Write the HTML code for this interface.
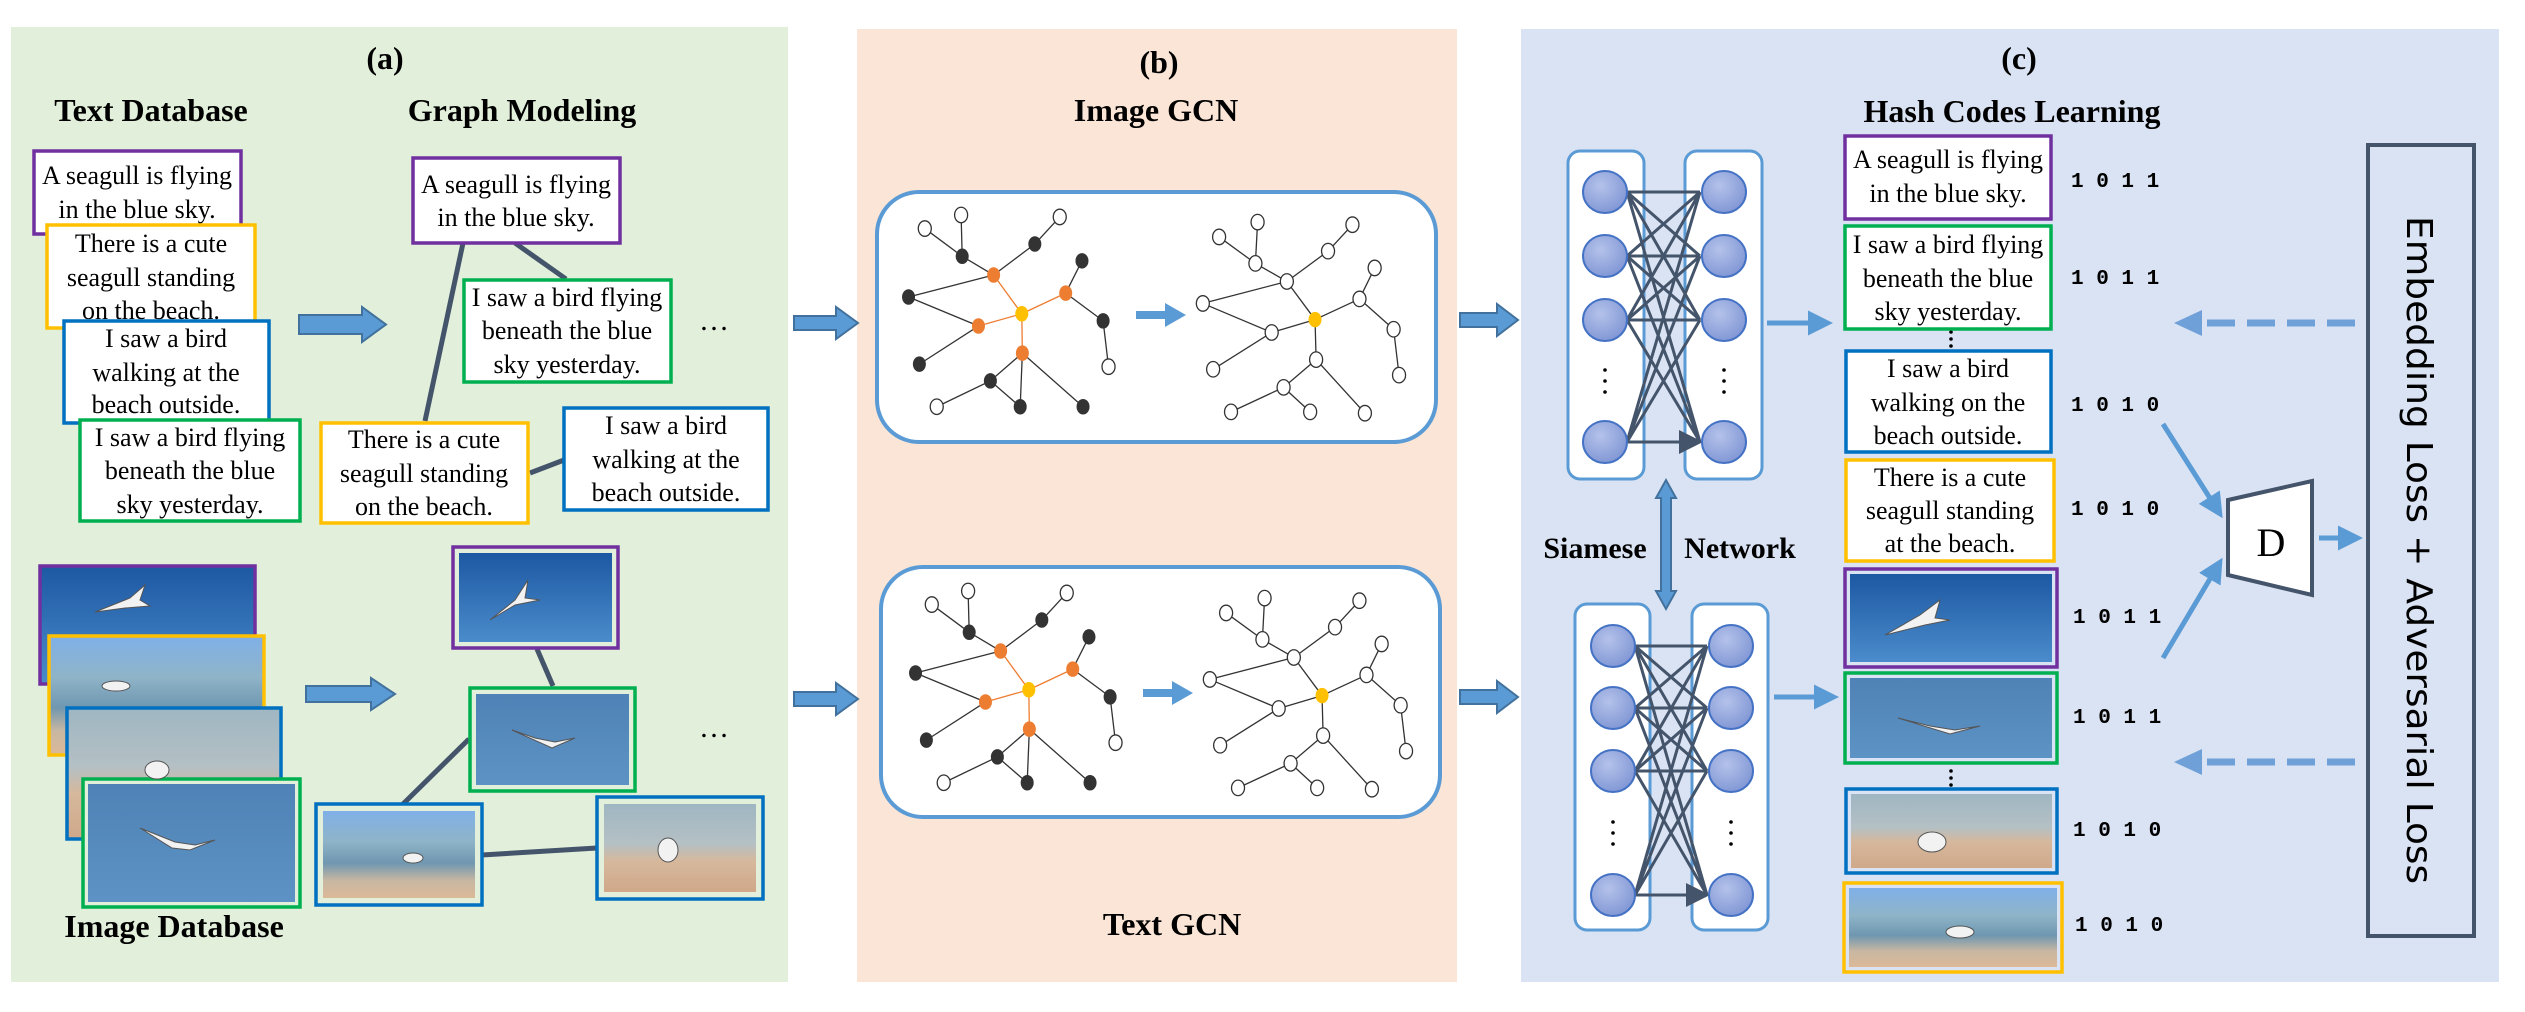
<!DOCTYPE html>
<html><head><meta charset="utf-8"><style>
html,body{margin:0;padding:0;background:#fff}
svg{display:block}
.t{font-family:"Liberation Serif",serif;font-size:26px;text-anchor:middle;fill:#000}
.h{font-family:"Liberation Serif",serif;font-weight:bold;font-size:32px;text-anchor:middle;fill:#000}
.c{font-family:"Liberation Mono",monospace;font-weight:bold;font-size:21px;fill:#000}
</style></head><body>
<svg width="2525" height="1012" viewBox="0 0 2525 1012" xmlns="http://www.w3.org/2000/svg">
<defs>
<linearGradient id="sky1" x1="0" y1="0" x2="0" y2="1"><stop offset="0" stop-color="#1d58a3"/><stop offset="1" stop-color="#4a8ccb"/></linearGradient>
<linearGradient id="sky2" x1="0" y1="0" x2="0" y2="1"><stop offset="0" stop-color="#4f82b6"/><stop offset="1" stop-color="#5d93c4"/></linearGradient>
<linearGradient id="beach1" x1="0" y1="0" x2="0" y2="1"><stop offset="0" stop-color="#7fb0e8"/><stop offset="0.35" stop-color="#8fb4c8"/><stop offset="0.6" stop-color="#6f97b0"/><stop offset="0.8" stop-color="#c8b7a2"/><stop offset="1" stop-color="#dcb997"/></linearGradient>
<linearGradient id="beach2" x1="0" y1="0" x2="0" y2="1"><stop offset="0" stop-color="#9fb6c2"/><stop offset="0.45" stop-color="#b4c0c4"/><stop offset="0.65" stop-color="#d6b89c"/><stop offset="1" stop-color="#d0a88a"/></linearGradient>
<radialGradient id="node" cx="0.4" cy="0.35" r="0.7"><stop offset="0" stop-color="#b4c2ea"/><stop offset="1" stop-color="#7f95d4"/></radialGradient>
<marker id="ah" markerWidth="8" markerHeight="8" refX="7" refY="4" orient="auto" markerUnits="strokeWidth"><path d="M0,0 L8,4 L0,8 Z" fill="#44546a"/></marker>
<marker id="ab" markerWidth="5" markerHeight="5" refX="4" refY="2.5" orient="auto" markerUnits="strokeWidth"><path d="M0,0 L5,2.5 L0,5 Z" fill="#5b9bd5"/></marker>
</defs>

<rect x="11" y="27" width="777" height="955" fill="#e2efda"/>
<rect x="857" y="29" width="600" height="953" fill="#fbe5d6"/>
<rect x="1521" y="29" width="978" height="953" fill="#dae3f3"/>

<text class="h" x="385" y="69">(a)</text>
<text class="h" x="151" y="121">Text Database</text>
<text class="h" x="522" y="121">Graph Modeling</text>

<g stroke-width="3.5">
<rect x="34" y="151" width="207" height="83" fill="#fff" stroke="#7030a0"/>
<text class="t" x="137" y="184">A seagull is flying</text><text class="t" x="137" y="218">in the blue sky.</text>
<rect x="47" y="225" width="208" height="103" fill="#fff" stroke="#ffc000"/>
<text class="t" x="151" y="252">There is a cute</text><text class="t" x="151" y="286">seagull standing</text><text class="t" x="151" y="319">on the beach.</text>
<rect x="64" y="321" width="205" height="102" fill="#fff" stroke="#0070c0"/>
<text class="t" x="166" y="347">I saw a  bird</text><text class="t" x="166" y="381">walking at the</text><text class="t" x="166" y="413">beach outside.</text>
<rect x="80" y="420" width="220" height="101" fill="#fff" stroke="#00b050"/>
<text class="t" x="190" y="446">I saw a bird flying</text><text class="t" x="190" y="479">beneath the blue</text><text class="t" x="190" y="513">sky yesterday.</text>
</g>

<g stroke="#44546a" stroke-width="5">
<line x1="463" y1="243" x2="425" y2="421"/><line x1="515" y1="243" x2="566" y2="279"/><line x1="530" y1="473" x2="564" y2="460"/>
<line x1="537" y1="649" x2="553" y2="686"/><line x1="469" y1="739" x2="402" y2="805"/><line x1="482" y1="855" x2="597" y2="848"/>
</g>
<g stroke-width="3.5">
<rect x="413" y="158" width="207" height="85" fill="#fff" stroke="#7030a0"/>
<text class="t" x="516" y="193">A seagull is flying</text><text class="t" x="516" y="226">in the blue sky.</text>
<rect x="464" y="280" width="207" height="102" fill="#fff" stroke="#00b050"/>
<text class="t" x="567" y="306">I saw a bird flying</text><text class="t" x="567" y="339">beneath the blue</text><text class="t" x="567" y="373">sky yesterday.</text>
<rect x="321" y="423" width="207" height="100" fill="#fff" stroke="#ffc000"/>
<text class="t" x="424" y="448">There is a cute</text><text class="t" x="424" y="482">seagull standing</text><text class="t" x="424" y="515">on the beach.</text>
<rect x="564" y="408" width="204" height="102" fill="#fff" stroke="#0070c0"/>
<text class="t" x="666" y="434">I saw a  bird</text><text class="t" x="666" y="468">walking at the</text><text class="t" x="666" y="501">beach outside.</text>
</g>
<text class="t" x="714" y="330" style="font-size:30px">…</text>
<text class="t" x="714" y="737" style="font-size:30px">…</text>

<g stroke-width="3.5">
<rect x="40" y="566" width="215" height="118" fill="url(#sky1)" stroke="#7030a0"/>
<rect x="49" y="636" width="215" height="119" fill="url(#beach1)" stroke="#ffc000"/>
<rect x="67" y="708" width="214" height="131" fill="url(#beach2)" stroke="#0070c0"/>
<rect x="83" y="779" width="217" height="128" fill="#e2efda" stroke="#00b050"/>
<rect x="88" y="784" width="207" height="118" fill="url(#sky2)"/>
</g>
<g fill="#f2f2f2" stroke="#555" stroke-width="1">
<path d="M95,612 L130,598 L145,585 L140,600 L150,606 L125,608 Z"/>
<ellipse cx="116" cy="686" rx="14" ry="5"/>
<ellipse cx="157" cy="770" rx="12" ry="9"/>
<path d="M140,828 L175,842 L195,845 L215,840 L190,850 L172,848 Z"/>
</g>
<text class="h" x="174" y="937">Image Database</text>

<g stroke-width="3.5">
<rect x="453" y="547" width="165" height="101" fill="#e2efda" stroke="#7030a0"/><rect x="459" y="553" width="153" height="89" fill="url(#sky1)"/>
<rect x="470" y="688" width="165" height="103" fill="#e2efda" stroke="#00b050"/><rect x="476" y="694" width="153" height="91" fill="url(#sky2)"/>
<rect x="316" y="804" width="166" height="101" fill="#e2efda" stroke="#0070c0"/><rect x="323" y="811" width="152" height="87" fill="url(#beach1)"/>
<rect x="597" y="797" width="166" height="102" fill="#e2efda" stroke="#0070c0"/><rect x="604" y="804" width="152" height="88" fill="url(#beach2)"/>
</g>
<g fill="#f2f2f2" stroke="#555" stroke-width="1">
<path d="M490,620 L515,600 L528,580 L525,598 L540,600 L515,605 Z"/>
<path d="M512,730 L535,738 L555,742 L575,738 L552,748 Z"/>
<ellipse cx="413" cy="858" rx="10" ry="5"/>
<ellipse cx="668" cy="850" rx="10" ry="12"/>
</g>

<g fill="#5b9bd5" stroke="#41719c" stroke-width="2">
<path d="M299,315 H362 V307 L386,324.5 L362,342 V334 H299 Z"/>
<path d="M306,686 H371 V678 L395,694 L371,710 V702 H306 Z"/>
<path d="M794,316 H836 V307 L858,323 L836,339 V330 H794 Z"/>
<path d="M794,692 H836 V683 L858,699 L836,715 V706 H794 Z"/>
<path d="M1460,313 H1497 V304 L1518,320 L1497,336 V327 H1460 Z"/>
<path d="M1460,690 H1497 V681 L1518,697 L1497,713 V704 H1460 Z"/>
<path d="M1661,498 H1656 L1666,480 L1676,498 H1671 V591 H1676 L1666,609 L1656,591 H1661 Z"/>
</g>

<text class="h" x="1159" y="73">(b)</text>
<text class="h" x="1156" y="121">Image GCN</text>
<text class="h" x="1172" y="935">Text GCN</text>
<rect x="877" y="192" width="559" height="250" rx="42" fill="#fff" stroke="#5b9bd5" stroke-width="4"/>
<rect x="881" y="567" width="559" height="250" rx="42" fill="#fff" stroke="#5b9bd5" stroke-width="4"/>
<g fill="#5b9bd5">
<path d="M1136,311 H1165 V303 L1186,315 L1165,327 V319 H1136 Z"/>
<path d="M1143,689 H1172 V681 L1193,693 L1172,705 V697 H1143 Z"/>
</g>

<g id="gcn" transform="translate(850,0) scale(0.542,0.6456)">
<g stroke="#333" stroke-width="1.3" fill="none">
<path vector-effect="non-scaling-stroke" d="M138,354L207,397 M205,333L207,397 M207,397L265,426 M387,336L341,378 M341,378L265,426 M108,460L265,426 M108,460L237,505 M128,564L237,505 M428,404L398,454 M467,497L398,454 M467,497L477,568 M160,630L259,590 M259,590L318,547 M259,590L314,630 M314,630L318,547 M430,630L318,547"/>
<path stroke="#ed7d31" vector-effect="non-scaling-stroke" d="M265,426L317,486 M398,454L317,486 M237,505L317,486 M318,547L317,486"/>
<path vector-effect="non-scaling-stroke" d="M681,367L748,408 M752,344L748,408 M748,408L806,436 M927,348L882,389 M882,389L806,436 M806,436L651,470 M806,436L858,495 M651,470L778,515 M778,515L858,495 M778,515L670,572 M858,495L940,463 M968,415L940,463 M940,463L1003,510 M1003,510L1013,581 M858,495L860,557 M860,557L800,600 M860,557L950,640 M800,600L703,638 M800,600L849,638"/>
</g>
<g fill="#333">
<circle cx="207" cy="397" r="12"/><circle cx="341" cy="378" r="12"/><circle cx="108" cy="460" r="12"/><circle cx="428" cy="404" r="12"/><circle cx="467" cy="497" r="12"/><circle cx="128" cy="564" r="12"/><circle cx="259" cy="590" r="12"/><circle cx="314" cy="630" r="12"/><circle cx="430" cy="630" r="12"/>
</g>
<g fill="#ed7d31"><circle cx="265" cy="426" r="12"/><circle cx="398" cy="454" r="12"/><circle cx="237" cy="505" r="12"/><circle cx="318" cy="547" r="12"/></g>
<g fill="#ffc000"><circle cx="317" cy="486" r="12"/><circle cx="858" cy="495" r="12"/></g>
<g fill="#fff" stroke="#333" stroke-width="1.3">
<circle vector-effect="non-scaling-stroke" cx="138" cy="354" r="12"/><circle vector-effect="non-scaling-stroke" cx="205" cy="333" r="12"/><circle vector-effect="non-scaling-stroke" cx="387" cy="336" r="12"/><circle vector-effect="non-scaling-stroke" cx="477" cy="568" r="12"/><circle vector-effect="non-scaling-stroke" cx="160" cy="630" r="12"/>
<circle vector-effect="non-scaling-stroke" cx="681" cy="367" r="12"/><circle vector-effect="non-scaling-stroke" cx="752" cy="344" r="12"/><circle vector-effect="non-scaling-stroke" cx="748" cy="408" r="12"/><circle vector-effect="non-scaling-stroke" cx="927" cy="348" r="12"/><circle vector-effect="non-scaling-stroke" cx="882" cy="389" r="12"/><circle vector-effect="non-scaling-stroke" cx="806" cy="436" r="12"/><circle vector-effect="non-scaling-stroke" cx="651" cy="470" r="12"/><circle vector-effect="non-scaling-stroke" cx="968" cy="415" r="12"/><circle vector-effect="non-scaling-stroke" cx="940" cy="463" r="12"/><circle vector-effect="non-scaling-stroke" cx="1003" cy="510" r="12"/><circle vector-effect="non-scaling-stroke" cx="1013" cy="581" r="12"/><circle vector-effect="non-scaling-stroke" cx="778" cy="515" r="12"/><circle vector-effect="non-scaling-stroke" cx="670" cy="572" r="12"/><circle vector-effect="non-scaling-stroke" cx="860" cy="557" r="12"/><circle vector-effect="non-scaling-stroke" cx="800" cy="600" r="12"/><circle vector-effect="non-scaling-stroke" cx="703" cy="638" r="12"/><circle vector-effect="non-scaling-stroke" cx="849" cy="638" r="12"/><circle vector-effect="non-scaling-stroke" cx="950" cy="640" r="12"/>
</g>
</g>
<use href="#gcn" transform="translate(7,376)"/>

<text class="h" x="2019" y="69">(c)</text>
<text class="h" x="2012" y="122">Hash Codes Learning</text>

<g fill="#fff" stroke="#5b9bd5" stroke-width="3">
<rect x="1568" y="151" width="76" height="328" rx="12"/><rect x="1685" y="151" width="77" height="328" rx="12"/>
<rect x="1575" y="604" width="75" height="326" rx="12"/><rect x="1692" y="604" width="76" height="326" rx="12"/>
</g>
<g stroke="#44546a" stroke-width="3" marker-end="url(#ah)">
<path d="M1627,192L1700,192 M1627,192L1700,256 M1627,192L1700,320 M1627,192L1700,442 M1627,256L1700,192 M1627,256L1700,256 M1627,256L1700,320 M1627,256L1700,442 M1627,320L1700,192 M1627,320L1700,256 M1627,320L1700,320 M1627,320L1700,442 M1627,442L1700,192 M1627,442L1700,256 M1627,442L1700,320 M1627,442L1700,442"/>
<path d="M1635,646L1707,646 M1635,646L1707,708 M1635,646L1707,771 M1635,646L1707,895 M1635,708L1707,646 M1635,708L1707,708 M1635,708L1707,771 M1635,708L1707,895 M1635,771L1707,646 M1635,771L1707,708 M1635,771L1707,771 M1635,771L1707,895 M1635,895L1707,646 M1635,895L1707,708 M1635,895L1707,771 M1635,895L1707,895"/>
</g>
<g fill="url(#node)" stroke="#4472c4" stroke-width="2">
<ellipse cx="1605" cy="192" rx="22" ry="21"/><ellipse cx="1605" cy="256" rx="22" ry="21"/><ellipse cx="1605" cy="320" rx="22" ry="21"/><ellipse cx="1605" cy="442" rx="22" ry="21"/>
<ellipse cx="1724" cy="192" rx="22" ry="21"/><ellipse cx="1724" cy="256" rx="22" ry="21"/><ellipse cx="1724" cy="320" rx="22" ry="21"/><ellipse cx="1724" cy="442" rx="22" ry="21"/>
<ellipse cx="1613" cy="646" rx="22" ry="21"/><ellipse cx="1613" cy="708" rx="22" ry="21"/><ellipse cx="1613" cy="771" rx="22" ry="21"/><ellipse cx="1613" cy="895" rx="22" ry="21"/>
<ellipse cx="1731" cy="646" rx="22" ry="21"/><ellipse cx="1731" cy="708" rx="22" ry="21"/><ellipse cx="1731" cy="771" rx="22" ry="21"/><ellipse cx="1731" cy="895" rx="22" ry="21"/>
</g>
<g fill="#000">
<circle cx="1605" cy="370" r="1.8"/><circle cx="1605" cy="381" r="1.8"/><circle cx="1605" cy="392" r="1.8"/>
<circle cx="1724" cy="370" r="1.8"/><circle cx="1724" cy="381" r="1.8"/><circle cx="1724" cy="392" r="1.8"/>
<circle cx="1613" cy="822" r="1.8"/><circle cx="1613" cy="833" r="1.8"/><circle cx="1613" cy="844" r="1.8"/>
<circle cx="1731" cy="822" r="1.8"/><circle cx="1731" cy="833" r="1.8"/><circle cx="1731" cy="844" r="1.8"/>
<circle cx="1951" cy="332" r="1.8"/><circle cx="1951" cy="339" r="1.8"/><circle cx="1951" cy="346" r="1.8"/>
<circle cx="1951" cy="771" r="1.8"/><circle cx="1951" cy="778" r="1.8"/><circle cx="1951" cy="785" r="1.8"/>
</g>
<text class="h" x="1595" y="558" style="font-size:30px">Siamese</text>
<text class="h" x="1740" y="558" style="font-size:30px">Network</text>

<g stroke="#5b9bd5" stroke-width="5" marker-end="url(#ab)">
<line x1="1767" y1="323" x2="1828" y2="323"/>
<line x1="1774" y1="697" x2="1834" y2="697"/>
<line x1="2163" y1="424" x2="2220" y2="514"/>
<line x1="2163" y1="658" x2="2220" y2="562"/>
<line x1="2319" y1="538" x2="2358" y2="538"/>
</g>

<g stroke-width="3.5">
<rect x="1845" y="136" width="206" height="83" fill="#fff" stroke="#7030a0"/>
<text class="t" x="1948" y="168">A seagull is flying</text><text class="t" x="1948" y="202">in the blue sky.</text>
<rect x="1845" y="226" width="206" height="103" fill="#fff" stroke="#00b050"/>
<text class="t" x="1948" y="253">I saw a bird flying</text><text class="t" x="1948" y="287">beneath the blue</text><text class="t" x="1948" y="320">sky yesterday.</text>
<rect x="1846" y="351" width="205" height="101" fill="#fff" stroke="#0070c0"/>
<text class="t" x="1948" y="377">I saw a  bird</text><text class="t" x="1948" y="411">walking on the</text><text class="t" x="1948" y="444">beach outside.</text>
<rect x="1846" y="460" width="208" height="101" fill="#fff" stroke="#ffc000"/>
<text class="t" x="1950" y="486">There is a cute</text><text class="t" x="1950" y="519">seagull standing</text><text class="t" x="1950" y="552">at the beach.</text>
<rect x="1845" y="569" width="212" height="98" fill="#dae3f3" stroke="#7030a0"/><rect x="1850" y="574" width="202" height="88" fill="url(#sky1)"/>
<rect x="1845" y="673" width="212" height="90" fill="#dae3f3" stroke="#00b050"/><rect x="1850" y="678" width="202" height="80" fill="url(#sky2)"/>
<rect x="1846" y="789" width="211" height="84" fill="#dae3f3" stroke="#0070c0"/><rect x="1851" y="794" width="201" height="74" fill="url(#beach2)"/>
<rect x="1844" y="883" width="218" height="89" fill="#dae3f3" stroke="#ffc000"/><rect x="1849" y="888" width="208" height="79" fill="url(#beach1)"/>
</g>
<g fill="#f2f2f2" stroke="#555" stroke-width="1">
<path d="M1885,635 L1920,615 L1940,600 L1935,618 L1950,620 L1925,625 Z"/>
<path d="M1898,718 L1930,726 L1955,730 L1980,726 L1950,734 Z"/>
<ellipse cx="1932" cy="842" rx="14" ry="10"/>
<ellipse cx="1960" cy="932" rx="14" ry="6"/>
</g>
<g>
<text class="c" x="2071" y="187">1 0 1 1</text>
<text class="c" x="2071" y="284">1 0 1 1</text>
<text class="c" x="2071" y="411">1 0 1 0</text>
<text class="c" x="2071" y="515">1 0 1 0</text>
<text class="c" x="2073" y="623">1 0 1 1</text>
<text class="c" x="2073" y="723">1 0 1 1</text>
<text class="c" x="2073" y="836">1 0 1 0</text>
<text class="c" x="2075" y="931">1 0 1 0</text>
</g>

<path d="M2228,500 L2312,481 L2312,595 L2228,575 Z" fill="#fff" stroke="#44546a" stroke-width="4"/>
<text x="2271" y="556" style="font-family:'Liberation Serif',serif;font-size:40px;text-anchor:middle">D</text>

<rect x="2368" y="145" width="106" height="791" fill="none" stroke="#44546a" stroke-width="4"/>
<text transform="translate(2407,550) rotate(90)" style="font-family:'DejaVu Sans','Liberation Sans',sans-serif;font-size:36px;text-anchor:middle" textLength="668" lengthAdjust="spacingAndGlyphs">Embedding Loss + Adversarial Loss</text>

<g stroke="#6fa0d8" stroke-width="7" stroke-dasharray="28,12" fill="none">
<line x1="2355" y1="323" x2="2200" y2="323"/>
<line x1="2355" y1="762" x2="2200" y2="762"/>
</g>
<g fill="#6fa0d8">
<path d="M2174,323 L2202,310 L2202,336 Z"/>
<path d="M2174,762 L2202,749 L2202,775 Z"/>
</g>
</svg>
</body></html>
